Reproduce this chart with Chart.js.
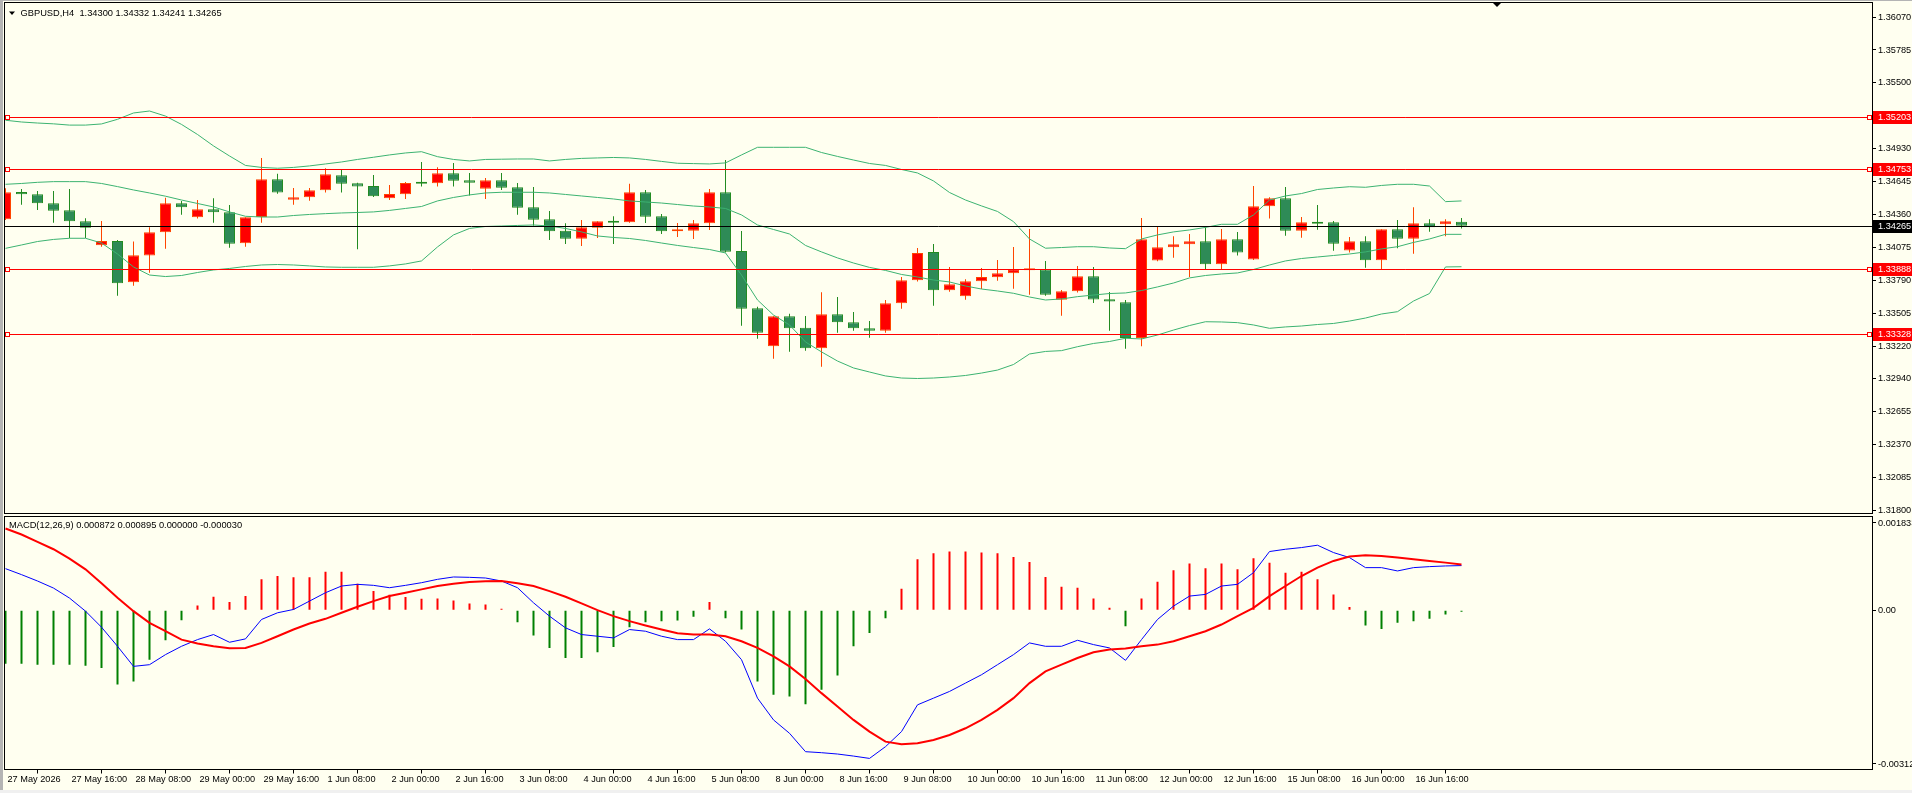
<!DOCTYPE html>
<html>
<head>
<meta charset="utf-8">
<title>GBPUSD,H4</title>
<script src="https://cdn.jsdelivr.net/npm/chart.js@4.4.1/dist/chart.umd.min.js"></script>
<style>
  html, body { margin: 0; padding: 0; background: #FFFFF0; }
  body { width: 1912px; height: 793px; position: relative; overflow: hidden; }
  canvas { position: absolute; left: 0; }
  #main { top: 0; }
  #macd { top: 514px; }
  .edge-left { position: absolute; left: 0; top: 0; width: 3px; height: 793px; background: #B4B4B4; }
  .edge-top { position: absolute; left: 0; top: 0; width: 1912px; height: 1px; background: #B4B4B4; }
  .edge-bottom { position: absolute; left: 0; top: 790px; width: 1912px; height: 3px; background: #F0F0F0; }
</style>
</head>
<body>
<div class="edge-left"></div>
<div class="edge-top"></div>
<div class="edge-bottom"></div>
<canvas id="main" width="1912" height="516"></canvas>
<canvas id="macd" width="1912" height="279"></canvas>
<script>
// time axis labels, one every 4 bars (H4)
const timeLabels = ['27 May 2026', '27 May 16:00', '28 May 08:00', '29 May 00:00', '29 May 16:00',
  '1 Jun 08:00', '2 Jun 00:00', '2 Jun 16:00', '3 Jun 08:00', '4 Jun 00:00', '4 Jun 16:00',
  '5 Jun 08:00', '8 Jun 00:00', '8 Jun 16:00', '9 Jun 08:00', '10 Jun 00:00', '10 Jun 16:00',
  '11 Jun 08:00', '12 Jun 00:00', '12 Jun 16:00', '15 Jun 08:00', '16 Jun 00:00', '16 Jun 16:00'];

const opens = [1.34320, 1.34557, 1.34537, 1.34459, 1.34398, 1.34303, 1.34095, 1.34133, 1.33776, 1.34006,
  1.34208, 1.34459, 1.34338, 1.34407, 1.34381, 1.34113, 1.34340, 1.34667, 1.34490, 1.34511,
  1.34571, 1.34701, 1.34632, 1.34609, 1.34502, 1.34537, 1.34635, 1.34632, 1.34718, 1.34658,
  1.34585, 1.34658, 1.34597, 1.34424, 1.34320, 1.34220, 1.34152, 1.34248, 1.34306, 1.34295,
  1.34554, 1.34346, 1.34216, 1.34220, 1.34286, 1.34554, 1.34046, 1.33550, 1.33222, 1.33481,
  1.33381, 1.33205, 1.33499, 1.33429, 1.33377, 1.33356, 1.33594, 1.33793, 1.34038, 1.33706,
  1.33654, 1.33784, 1.33818, 1.33853, 1.33879, 1.33885, 1.33625, 1.33698, 1.33827, 1.33629,
  1.33603, 1.33293, 1.33963, 1.34078, 1.34104, 1.34130, 1.33931, 1.34147, 1.33972, 1.34433,
  1.34502, 1.34220, 1.34297, 1.34295, 1.34051, 1.34130, 1.33966, 1.34234, 1.34152, 1.34286,
  1.34277, 1.34300];
const highs = [1.34589, 1.34583, 1.34565, 1.34565, 1.34583, 1.34329, 1.34306, 1.34141, 1.34128, 1.34251,
  1.34507, 1.34479, 1.34487, 1.34502, 1.34444, 1.34338, 1.34851, 1.34714, 1.34591, 1.34591,
  1.34761, 1.34747, 1.34636, 1.34704, 1.34617, 1.34643, 1.34816, 1.34770, 1.34808, 1.34721,
  1.34678, 1.34721, 1.34635, 1.34600, 1.34392, 1.34286, 1.34314, 1.34303, 1.34346, 1.34628,
  1.34574, 1.34366, 1.34288, 1.34314, 1.34583, 1.34834, 1.34219, 1.33564, 1.33481, 1.33504,
  1.33484, 1.33689, 1.33648, 1.33518, 1.33440, 1.33622, 1.33822, 1.34072, 1.34107, 1.33908,
  1.33801, 1.33899, 1.33968, 1.34081, 1.34237, 1.33960, 1.33709, 1.33916, 1.33908, 1.33692,
  1.33622, 1.34332, 1.34262, 1.34173, 1.34193, 1.34251, 1.34237, 1.34210, 1.34609, 1.34511,
  1.34600, 1.34340, 1.34444, 1.34306, 1.34167, 1.34173, 1.34234, 1.34314, 1.34424, 1.34320,
  1.34320, 1.34332];
const lows = [1.34314, 1.34447, 1.34401, 1.34291, 1.34159, 1.34159, 1.34083, 1.33659, 1.33746, 1.33858,
  1.34066, 1.34360, 1.34326, 1.34291, 1.34075, 1.34083, 1.34291, 1.34542, 1.34447, 1.34481,
  1.34551, 1.34551, 1.34061, 1.34513, 1.34487, 1.34496, 1.34603, 1.34603, 1.34603, 1.34525,
  1.34496, 1.34574, 1.34360, 1.34265, 1.34141, 1.34107, 1.34089, 1.34159, 1.34107, 1.34290,
  1.34288, 1.34193, 1.34167, 1.34150, 1.34228, 1.34032, 1.33400, 1.33287, 1.33114, 1.33175,
  1.33184, 1.33045, 1.33339, 1.33356, 1.33295, 1.33339, 1.33547, 1.33781, 1.33573, 1.33694,
  1.33625, 1.33717, 1.33789, 1.33719, 1.33668, 1.33659, 1.33485, 1.33686, 1.33596, 1.33356,
  1.33200, 1.33221, 1.33957, 1.33988, 1.33822, 1.33891, 1.33891, 1.34006, 1.33967, 1.34326,
  1.34178, 1.34161, 1.34230, 1.34049, 1.34032, 1.33901, 1.33891, 1.34070, 1.34023, 1.34213,
  1.34173, 1.34241];
const closes = [1.34554, 1.34537, 1.34459, 1.34395, 1.34303, 1.34248, 1.34133, 1.33767, 1.34009, 1.34208,
  1.34459, 1.34424, 1.34407, 1.34381, 1.34109, 1.34338, 1.34667, 1.34551, 1.34511, 1.34571,
  1.34709, 1.34628, 1.34603, 1.34520, 1.34539, 1.34635, 1.34628, 1.34718, 1.34654, 1.34637,
  1.34658, 1.34594, 1.34421, 1.34317, 1.34216, 1.34152, 1.34251, 1.34303, 1.34291, 1.34554,
  1.34343, 1.34216, 1.34225, 1.34286, 1.34554, 1.34040, 1.33547, 1.33339, 1.33481, 1.33377,
  1.33205, 1.33499, 1.33429, 1.33377, 1.33356, 1.33594, 1.33793, 1.34029, 1.33706, 1.33758,
  1.33784, 1.33821, 1.33853, 1.33888, 1.33885, 1.33668, 1.33698, 1.33827, 1.33626, 1.33608,
  1.33293, 1.34147, 1.34078, 1.34104, 1.34130, 1.33931, 1.34147, 1.34032, 1.34433, 1.34502,
  1.34220, 1.34295, 1.34282, 1.34109, 1.34130, 1.33966, 1.34234, 1.34152, 1.34286, 1.34251,
  1.34303, 1.34265];

// Bollinger bands
const bbUpper = [1.35177, 1.35162, 1.35153, 1.35146, 1.35135, 1.35135, 1.35145, 1.35185, 1.35240, 1.35257,
  1.35213, 1.35141, 1.35054, 1.34955, 1.34868, 1.34786, 1.34769, 1.34762, 1.34769, 1.34782,
  1.34799, 1.34816, 1.34838, 1.34857, 1.34877, 1.34894, 1.34905, 1.34862, 1.34838, 1.34825,
  1.34838, 1.34840, 1.34842, 1.34842, 1.34825, 1.34838, 1.34847, 1.34851, 1.34855, 1.34851,
  1.34838, 1.34821, 1.34805, 1.34802, 1.34799, 1.34808, 1.34877, 1.34943, 1.34943, 1.34943,
  1.34943, 1.34898, 1.34864, 1.34833, 1.34803, 1.34786, 1.34751, 1.34721, 1.34652, 1.34552,
  1.34487, 1.34436, 1.34388, 1.34300, 1.34150, 1.34070, 1.34076, 1.34083, 1.34083, 1.34072,
  1.34066, 1.34150, 1.34185, 1.34211, 1.34228, 1.34250, 1.34277, 1.34277, 1.34358, 1.34487,
  1.34522, 1.34543, 1.34578, 1.34591, 1.34602, 1.34597, 1.34613, 1.34623, 1.34623, 1.34608,
  1.34473, 1.34479];
const bbMiddle = [1.34623, 1.34630, 1.34640, 1.34646, 1.34646, 1.34646, 1.34630, 1.34603, 1.34574, 1.34548,
  1.34520, 1.34487, 1.34457, 1.34427, 1.34384, 1.34346, 1.34340, 1.34340, 1.34353, 1.34362,
  1.34369, 1.34375, 1.34379, 1.34384, 1.34397, 1.34414, 1.34431, 1.34479, 1.34509, 1.34531,
  1.34548, 1.34554, 1.34554, 1.34554, 1.34548, 1.34535, 1.34522, 1.34509, 1.34496, 1.34479,
  1.34470, 1.34461, 1.34448, 1.34435, 1.34427, 1.34414, 1.34358, 1.34271, 1.34232, 1.34193,
  1.34094, 1.34038, 1.33986, 1.33942, 1.33904, 1.33878, 1.33843, 1.33821, 1.33795, 1.33778,
  1.33743, 1.33717, 1.33700, 1.33680, 1.33648, 1.33622, 1.33631, 1.33651, 1.33665, 1.33678,
  1.33683, 1.33704, 1.33735, 1.33769, 1.33813, 1.33834, 1.33847, 1.33856, 1.33886, 1.33925,
  1.33960, 1.33981, 1.33994, 1.34007, 1.34020, 1.34038, 1.34064, 1.34083, 1.34120, 1.34150,
  1.34190, 1.34190];
const bbLower = [1.34069, 1.34098, 1.34128, 1.34146, 1.34156, 1.34156, 1.34115, 1.34020, 1.33908, 1.33838,
  1.33825, 1.33834, 1.33860, 1.33882, 1.33895, 1.33912, 1.33925, 1.33929, 1.33925, 1.33917,
  1.33908, 1.33905, 1.33905, 1.33905, 1.33917, 1.33934, 1.33960, 1.34081, 1.34185, 1.34241,
  1.34258, 1.34262, 1.34267, 1.34271, 1.34262, 1.34241, 1.34211, 1.34176, 1.34163, 1.34154,
  1.34137, 1.34115, 1.34094, 1.34076, 1.34059, 1.34029, 1.33838, 1.33622, 1.33492, 1.33406,
  1.33259, 1.33173, 1.33094, 1.33034, 1.32999, 1.32965, 1.32947, 1.32943, 1.32947, 1.32956,
  1.32969, 1.32990, 1.33016, 1.33064, 1.33155, 1.33177, 1.33184, 1.33218, 1.33246, 1.33263,
  1.33291, 1.33285, 1.33319, 1.33362, 1.33401, 1.33434, 1.33432, 1.33426, 1.33406, 1.33377,
  1.33389, 1.33397, 1.33410, 1.33419, 1.33440, 1.33466, 1.33501, 1.33521, 1.33613, 1.33678,
  1.33908, 1.33910];

// MACD(12,26,9) panel
const macdMain = [0.000812, 0.000695, 0.000570, 0.000432, 0.000236, -0.000020, -0.000334, -0.000708, -0.001101, -0.001068,
  -0.000871, -0.000708, -0.000577, -0.000478, -0.000629, -0.000563, -0.000183, -0.000052, 0.000013, 0.000177,
  0.000341, 0.000472, 0.000505, 0.000485, 0.000439, 0.000485, 0.000537, 0.000603, 0.000649, 0.000642,
  0.000629, 0.000570, 0.000439, 0.000144, -0.000118, -0.000347, -0.000478, -0.000511, -0.000544, -0.000380,
  -0.000413, -0.000511, -0.000577, -0.000577, -0.000367, -0.000609, -0.000970, -0.001723, -0.002149, -0.002411,
  -0.002771, -0.002791, -0.002817, -0.002857, -0.002903, -0.002673, -0.002378, -0.001854, -0.001723, -0.001592,
  -0.001428, -0.001265, -0.001068, -0.000871, -0.000642, -0.000708, -0.000708, -0.000590, -0.000675, -0.000740,
  -0.000983, -0.000577, -0.000183, 0.000079, 0.000275, 0.000308, 0.000472, 0.000505, 0.000734, 0.001147,
  0.001192, 0.001225, 0.001271, 0.001127, 0.001029, 0.000832, 0.000832, 0.000767, 0.000832, 0.000852,
  0.000865, 0.000872];
const macdSignal = [0.001599, 0.001481, 0.001337, 0.001192, 0.001009, 0.000799, 0.000524, 0.000242, -0.000020, -0.000249,
  -0.000413, -0.000577, -0.000655, -0.000708, -0.000747, -0.000740, -0.000642, -0.000511, -0.000380, -0.000262,
  -0.000170, -0.000052, 0.000066, 0.000177, 0.000275, 0.000341, 0.000406, 0.000472, 0.000518, 0.000550,
  0.000563, 0.000570, 0.000524, 0.000472, 0.000373, 0.000262, 0.000131, 0.000000, -0.000118, -0.000216,
  -0.000301, -0.000380, -0.000452, -0.000478, -0.000478, -0.000511, -0.000609, -0.000740, -0.000904, -0.001101,
  -0.001350, -0.001625, -0.001887, -0.002149, -0.002378, -0.002575, -0.002627, -0.002608, -0.002542, -0.002444,
  -0.002313, -0.002149, -0.001952, -0.001723, -0.001428, -0.001199, -0.001068, -0.000937, -0.000826, -0.000773,
  -0.000753, -0.000708, -0.000675, -0.000609, -0.000511, -0.000413, -0.000282, -0.000118, 0.000046, 0.000275,
  0.000472, 0.000668, 0.000832, 0.000963, 0.001048, 0.001075, 0.001061, 0.001029, 0.000996, 0.000963,
  0.000930, 0.000895];
const macdHist = [-0.001048, -0.001048, -0.001068, -0.001068, -0.001068, -0.001088, -0.001133, -0.001455, -0.001396, -0.000970,
  -0.000590, -0.000197, 0.000092, 0.000262, 0.000157, 0.000275, 0.000603, 0.000668, 0.000642, 0.000642,
  0.000753, 0.000753, 0.000518, 0.000373, 0.000301, 0.000256, 0.000223, 0.000229, 0.000190, 0.000131,
  0.000111, 0.000026, -0.000236, -0.000498, -0.000740, -0.000937, -0.000937, -0.000826, -0.000721, -0.000334,
  -0.000236, -0.000216, -0.000203, -0.000131, 0.000157, -0.000157, -0.000380, -0.001396, -0.001658, -0.001690,
  -0.001841, -0.001559, -0.001278, -0.000708, -0.000446, -0.000157, 0.000419, 0.000996, 0.001114, 0.001147,
  0.001147, 0.001127, 0.001114, 0.001042, 0.000943, 0.000649, 0.000459, 0.000439, 0.000229, 0.000046,
  -0.000314, 0.000229, 0.000557, 0.000780, 0.000911, 0.000819, 0.000911, 0.000799, 0.001016, 0.000930,
  0.000734, 0.000753, 0.000603, 0.000308, 0.000059, -0.000301, -0.000367, -0.000249, -0.000216, -0.000170,
  -0.000085, -0.000030];

// horizontal levels and axis ticks
const levels = [1.35203, 1.34753, 1.33888, 1.33328];
const currentPrice = 1.34265;
const priceTicks = [1.36070, 1.35785, 1.35500, 1.34930, 1.34645, 1.34360, 1.34075, 1.33790, 1.33505,
  1.33220, 1.32940, 1.32655, 1.32370, 1.32085, 1.31800];
const macdTickLabels = ['0.001833', '0.00', '-0.00312'];
const macdTickPos = [0.001706, 0, -0.003012];

const PRICE_MIN = 1.31775, PRICE_MAX = 1.36200;
const MACD_MIN = -0.00312, MACD_MAX = 0.001833;
const X_MIN = -0.0625, X_MAX = 116.656;

const FONT = "'Liberation Sans', Arial, sans-serif";
const BG = '#FFFFF0';
const BULL_FILL = '#FF0000', BULL_EDGE = '#FF4500';
const BEAR_FILL = '#2E8B57', BEAR_EDGE = '#228B22';
const BB_COLOR = '#3CB371';
const LEVEL_RED = '#FF0000';

const bull = closes.map((c, i) => c >= opens[i]);
const pts = arr => arr.map((v, i) => ({ x: i, y: v }));
const last = a => a[a.length - 1];

function drawFrame(ctx, a) {
  ctx.strokeStyle = '#000';
  ctx.lineWidth = 1;
  const l = Math.floor(a.left) + 0.5, t = Math.floor(a.top) + 0.5;
  const r = Math.floor(a.right) + 0.5, b = Math.floor(a.bottom) + 0.5;
  ctx.strokeRect(l, t, r - l, b - t);
}

function axisBox(chart, price, color) {
  const { ctx, chartArea: a, scales: { y } } = chart;
  const py = y.getPixelForValue(price);
  ctx.fillStyle = color;
  ctx.fillRect(Math.floor(a.right) + 1, Math.round(py) - 6, chart.width - a.right, 13);
  ctx.fillStyle = '#FFFFFF';
  ctx.font = `9.2px ${FONT}`;
  ctx.textBaseline = 'middle';
  ctx.textAlign = 'left';
  ctx.fillText(price.toFixed(5), a.right + 6, Math.round(py) + 0.5);
}

const mainDecor = {
  id: 'mainDecor',
  afterDatasetsDraw(chart) {
    const { ctx, chartArea: a, scales: { y } } = chart;
    ctx.save();
    ctx.lineWidth = 1;
    levels.forEach(lv => {
      const py = Math.round(y.getPixelForValue(lv)) + 0.5;
      ctx.strokeStyle = LEVEL_RED;
      ctx.beginPath(); ctx.moveTo(a.left, py); ctx.lineTo(a.right, py); ctx.stroke();
      [a.left + 0.5, a.right - 5].forEach(sx => {
        const x0 = Math.round(sx);
        ctx.fillStyle = BG;
        ctx.fillRect(x0, py - 2.5, 5, 5);
        ctx.strokeRect(x0 + 0.5, py - 2, 4, 4);
      });
    });
    const cy = Math.round(y.getPixelForValue(currentPrice)) + 0.5;
    ctx.strokeStyle = '#000';
    ctx.beginPath(); ctx.moveTo(a.left, cy); ctx.lineTo(a.right, cy); ctx.stroke();
    ctx.restore();
  },
  afterDraw(chart) {
    const { ctx, chartArea: a } = chart;
    ctx.save();
    drawFrame(ctx, a);
    levels.forEach(lv => axisBox(chart, lv, LEVEL_RED));
    axisBox(chart, currentPrice, '#000000');

    // symbol header
    ctx.fillStyle = '#000';
    ctx.beginPath(); ctx.moveTo(9, 11.5); ctx.lineTo(15, 11.5); ctx.lineTo(12, 15); ctx.closePath(); ctx.fill();
    ctx.font = `9.3px ${FONT}`;
    ctx.textBaseline = 'middle';
    ctx.textAlign = 'left';
    const head = `GBPUSD,H4  ${last(opens).toFixed(5)} ${last(highs).toFixed(5)} ${last(lows).toFixed(5)} ${last(closes).toFixed(5)}`;
    ctx.fillText(head, 20.5, 13);

    // chart shift marker
    ctx.beginPath(); ctx.moveTo(1492, 2); ctx.lineTo(1502, 2); ctx.lineTo(1497, 7); ctx.closePath(); ctx.fill();
    ctx.restore();
  }
};

const macdDecor = {
  id: 'macdDecor',
  afterDraw(chart) {
    const { ctx, chartArea: a } = chart;
    ctx.save();
    drawFrame(ctx, a);
    ctx.fillStyle = '#000';
    ctx.font = `9.3px ${FONT}`;
    ctx.textBaseline = 'middle';
    ctx.textAlign = 'left';
    const up = Math.max(last(macdHist), 0), dn = Math.min(last(macdHist), 0);
    ctx.fillText(`MACD(12,26,9) ${last(macdMain).toFixed(6)} ${last(macdSignal).toFixed(6)} ${up.toFixed(6)} ${dn.toFixed(6)}`, 9, a.top + 8.5);
    ctx.restore();
  }
};

const tickFont = { family: FONT, size: 9.2 };

const mainChart = new Chart(document.getElementById('main'), {
  type: 'bar',
  data: {
    datasets: [
      {
        label: 'wick',
        data: highs.map((h, i) => ({ x: i, y: [lows[i], h] })),
        backgroundColor: bull.map(b => b ? BULL_EDGE : BEAR_EDGE),
        barThickness: 1, grouped: false, inflateAmount: 0, minBarLength: 1, clip: 0, order: 3
      },
      {
        label: 'body',
        data: opens.map((o, i) => ({ x: i, y: [o, closes[i]] })),
        backgroundColor: bull.map(b => b ? BULL_FILL : BEAR_FILL),
        borderColor: bull.map(b => b ? BULL_EDGE : BEAR_EDGE),
        borderWidth: 1, borderSkipped: false,
        barThickness: 11, grouped: false, inflateAmount: 0, minBarLength: 2, clip: 0, order: 2
      },
      { type: 'line', label: 'BB upper', data: pts(bbUpper), borderColor: BB_COLOR, borderWidth: 1, pointRadius: 0, order: 1 },
      { type: 'line', label: 'BB middle', data: pts(bbMiddle), borderColor: BB_COLOR, borderWidth: 1, pointRadius: 0, order: 1 },
      { type: 'line', label: 'BB lower', data: pts(bbLower), borderColor: BB_COLOR, borderWidth: 1, pointRadius: 0, order: 1 }
    ]
  },
  options: {
    responsive: false,
    animation: false,
    events: [],
    layout: { padding: { left: 4.5, top: 2, right: 0, bottom: 2.5 } },
    plugins: { legend: { display: false }, tooltip: { enabled: false } },
    scales: {
      x: { type: 'linear', min: X_MIN, max: X_MAX, offset: false, display: false },
      y: {
        type: 'linear', position: 'right', min: PRICE_MIN, max: PRICE_MAX,
        afterBuildTicks: s => { s.ticks = priceTicks.map(v => ({ value: v })); },
        afterFit: s => { s.width = 40; s.paddingTop = 0; s.paddingBottom = 0; },
        grid: { drawOnChartArea: false, drawTicks: true, tickLength: 4, color: '#000', tickColor: '#000' },
        border: { display: false },
        ticks: { autoSkip: false, padding: 2, color: '#000', font: tickFont, callback: v => v.toFixed(5) }
      }
    }
  },
  plugins: [mainDecor]
});

const macdChart = new Chart(document.getElementById('macd'), {
  type: 'bar',
  data: {
    datasets: [
      {
        label: 'hist up',
        data: macdHist.map((v, i) => ({ x: i, y: v > 0 ? v : null })),
        backgroundColor: '#FF0000',
        barThickness: 2, grouped: false, inflateAmount: 0, clip: 0, order: 3
      },
      {
        label: 'hist down',
        data: macdHist.map((v, i) => ({ x: i, y: v < 0 ? v : null })),
        backgroundColor: '#008000',
        barThickness: 2, grouped: false, inflateAmount: 0, clip: 0, order: 3
      },
      { type: 'line', label: 'MACD', data: pts(macdMain), borderColor: '#0000FF', borderWidth: 1, pointRadius: 0, order: 2 },
      { type: 'line', label: 'Signal', data: pts(macdSignal), borderColor: '#FF0000', borderWidth: 2, pointRadius: 0, order: 1 }
    ]
  },
  options: {
    responsive: false,
    animation: false,
    events: [],
    layout: { padding: { left: 4.5, top: 2.5, right: 0, bottom: 0 } },
    plugins: { legend: { display: false }, tooltip: { enabled: false } },
    scales: {
      x: {
        type: 'linear', position: 'bottom', min: X_MIN, max: X_MAX, offset: false,
        afterBuildTicks: s => { s.ticks = timeLabels.map((_, k) => ({ value: k * 4 })); },
        afterFit: s => { s.height = 23.5; s.paddingLeft = 0; s.paddingRight = 0; },
        grid: { drawOnChartArea: false, drawTicks: true, tickLength: 4, color: '#000', tickColor: '#000' },
        border: { display: false },
        ticks: {
          autoSkip: false, maxRotation: 0, minRotation: 0, align: 'start', labelOffset: 2, padding: 0,
          color: '#000', font: tickFont, callback: v => timeLabels[Math.round(v / 4)]
        }
      },
      y: {
        type: 'linear', position: 'right', min: MACD_MIN, max: MACD_MAX,
        afterBuildTicks: s => { s.ticks = macdTickPos.map(v => ({ value: v })); },
        afterFit: s => { s.width = 40; s.paddingTop = 0; s.paddingBottom = 0; },
        grid: { drawOnChartArea: false, drawTicks: true, tickLength: 4, color: '#000', tickColor: '#000' },
        border: { display: false },
        ticks: { autoSkip: false, padding: 2, color: '#000', font: tickFont, callback: (v, i) => macdTickLabels[i] }
      }
    }
  },
  plugins: [macdDecor]
});
</script>
</body>
</html>
